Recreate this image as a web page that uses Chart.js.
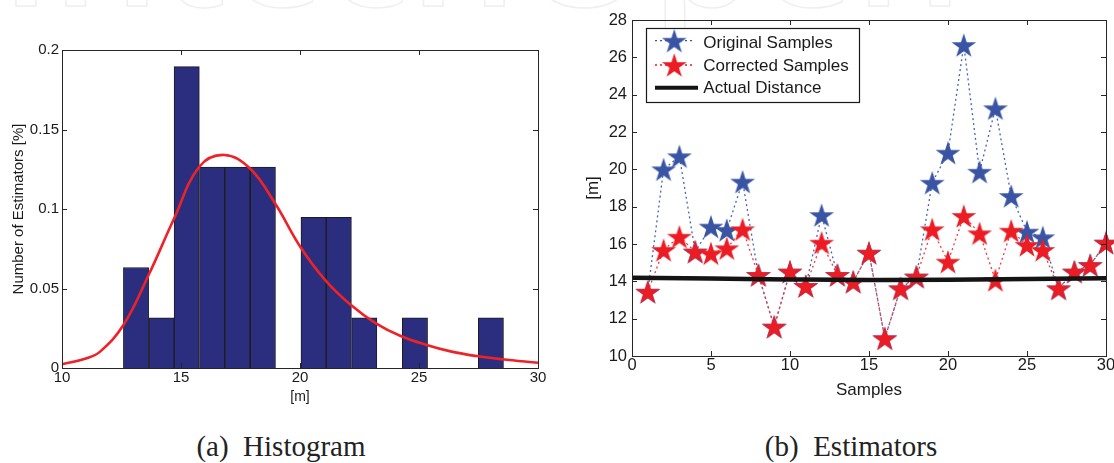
<!DOCTYPE html>
<html>
<head>
<meta charset="utf-8">
<script src="https://cdn.jsdelivr.net/npm/chart.js@4.4.0/dist/chart.umd.min.js"></script>
<style>
html, body { margin: 0; padding: 0; background: #fff; }
body { width: 1114px; height: 463px; position: relative; overflow: hidden; font-family: "Liberation Sans", Arial, sans-serif; }
#wm { position: absolute; left: 0; top: -145px; font: 600 170px/170px "Open Sans", sans-serif; color: transparent; -webkit-text-stroke: 1.5px #efefef; white-space: nowrap; }
#histBox { position: absolute; left: 0; top: 0; width: 560px; height: 410px; }
#estBox { position: absolute; left: 560px; top: 0; width: 554px; height: 410px; }
.cap { position: absolute; top: 432px; font: 29px/29px "Liberation Serif", serif; white-space: pre; color: #222; transform: translateX(-50%); }
</style>
</head>
<body>
<div id="wm">IntechOpen</div>
<div id="histBox"><canvas id="hist" width="560" height="410"></canvas></div>
<div id="estBox"><canvas id="est" width="554" height="410"></canvas></div>
<div class="cap" style="left:281px">(a)  Histogram</div>
<div class="cap" style="left:851px">(b)  Estimators</div>
<script>
// ---------------- data: (a) histogram ----------------
const binCenters = [13.11, 14.18, 15.24, 16.31, 17.37, 18.44, 19.50, 20.57, 21.63, 22.70, 23.76, 24.83, 25.89, 26.96, 28.02];
const binHeights = [0.0632, 0.0316, 0.1895, 0.1263, 0.1263, 0.1263, 0, 0.0947, 0.0947, 0.0316, 0, 0.0316, 0, 0, 0.0316];
const fitX = [10, 11.04, 11.6, 12.58, 13.64, 14.71, 15.77, 16.81, 17.89, 18.95, 20.01, 21.06, 22.14, 23.19, 24.23, 25.32, 26.37, 27.42, 28.49, 30];
const fitY = [0.0023, 0.0061, 0.0103, 0.027, 0.0585, 0.094, 0.1266, 0.134, 0.1256, 0.1036, 0.0763, 0.0553, 0.0396, 0.0281, 0.0201, 0.0145, 0.0103, 0.0075, 0.0055, 0.0033];
const histXTicks = [10, 15, 20, 25, 30];
const histYTicks = [0, 0.05, 0.1, 0.15, 0.2];
const histYLabels = ['0', '0.05', '0.1', '0.15', '0.2'];

// ---------------- data: (b) estimators ----------------
const samples = [1, 2, 3, 4, 5, 6, 7, 8, 9, 10, 11, 12, 13, 14, 15, 16, 17, 18, 19, 20, 21, 22, 23, 24, 25, 26, 27, 28, 29, 30];
const original = [13.44, 20.0, 20.7, 15.59, 16.93, 16.75, 19.34, 14.34, 11.57, 14.52, 13.75, 17.55, 14.34, 13.98, 15.53, 10.95, 13.62, 14.25, 19.28, 20.89, 26.66, 19.87, 23.27, 18.57, 16.66, 16.36, 13.62, 14.52, 14.87, 16.07];
const corrected = [13.44, 15.68, 16.39, 15.59, 15.5, 15.77, 16.79, 14.34, 11.57, 14.52, 13.75, 16.07, 14.34, 13.98, 15.53, 10.95, 13.62, 14.25, 16.79, 15.05, 17.5, 16.57, 14.07, 16.71, 15.95, 15.68, 13.62, 14.52, 14.87, 16.07];
const actualX = [0, 5, 10, 15, 20, 25, 30];
const actualY = [14.19, 14.15, 14.1, 14.07, 14.08, 14.12, 14.16];
const estXTicks = [0, 5, 10, 15, 20, 25, 30];
const estYTicks = [10, 12, 14, 16, 18, 20, 22, 24, 26, 28];
const legendLabels = ['Original Samples', 'Corrected Samples', 'Actual Distance'];

const BLUE = '#3a54a4';
const RED = '#ec1c24';
const FONT = '"Liberation Sans", Arial, sans-serif';

// filled 5-point star used as the marker
function makeStar(fill) {
    const c = document.createElement('canvas');
    c.width = 28; c.height = 28;
    const g = c.getContext('2d');
    const R = 13, r = R * 0.382, cx = 14, cy = 15.2;
    g.beginPath();
    for (let i = 0; i < 10; i++) {
        const rad = i % 2 ? r : R;
        const a = -Math.PI / 2 + i * Math.PI / 5;
        g.lineTo(cx + rad * Math.cos(a), cy + rad * Math.sin(a));
    }
    g.closePath();
    g.fillStyle = fill;
    g.fill();
    return c;
}
const blueStar = makeStar(BLUE);
const redStar = makeStar(RED);

// matlab-like box with inward ticks on all four sides
const boxTicks = {
    id: 'boxTicks',
    afterDraw(chart) {
        const { ctx, chartArea: a, scales } = chart;
        const tl = 5;
        ctx.save();
        ctx.strokeStyle = '#262626';
        ctx.lineWidth = 1;
        ctx.beginPath();
        for (const t of scales.x.ticks) {
            const px = Math.round(scales.x.getPixelForValue(t.value)) + 0.5;
            ctx.moveTo(px, a.bottom); ctx.lineTo(px, a.bottom - tl);
            ctx.moveTo(px, a.top); ctx.lineTo(px, a.top + tl);
        }
        for (const t of scales.y.ticks) {
            const py = Math.round(scales.y.getPixelForValue(t.value)) + 0.5;
            ctx.moveTo(a.left, py); ctx.lineTo(a.left + tl, py);
            ctx.moveTo(a.right, py); ctx.lineTo(a.right - tl, py);
        }
        ctx.stroke();
        ctx.strokeRect(Math.round(a.left) + 0.5, Math.round(a.top) + 0.5, Math.round(a.right - a.left), Math.round(a.bottom - a.top));
        ctx.restore();
    }
};

function fixedTicks(list) {
    return s => { s.ticks = list.map(v => ({ value: v })); };
}

// ---------------- (a) histogram ----------------
new Chart(document.getElementById('hist'), {
    type: 'bar',
    data: {
        datasets: [
            {
                type: 'line',
                data: fitX.map((x, i) => ({ x, y: fitY[i] })),
                borderColor: '#ee2227',
                borderWidth: 2.6,
                pointRadius: 0,
                tension: 0.4,
                order: 0
            },
            {
                data: binCenters.map((x, i) => ({ x, y: binHeights[i] })),
                backgroundColor: '#2b2e7e',
                borderColor: '#1c1c1c',
                borderWidth: 1,
                barPercentage: 1,
                categoryPercentage: 1,
                order: 1
            }
        ]
    },
    options: {
        responsive: false,
        animation: false,
        events: [],
        layout: { padding: { left: 0, top: 50, right: 22, bottom: 0 } },
        plugins: { legend: { display: false }, tooltip: { enabled: false } },
        scales: {
            x: {
                type: 'linear', min: 10, max: 30, offset: false,
                afterBuildTicks: fixedTicks(histXTicks),
                afterFit(s) { s.height = 42; s.paddingLeft = 0; s.paddingRight = 0; },
                grid: { display: false, drawTicks: false },
                border: { display: false },
                ticks: { padding: 1, color: '#1a1a1a', font: { family: FONT, size: 15 }, maxRotation: 0, autoSkip: false },
                title: { display: true, text: '[m]', color: '#1a1a1a', font: { family: FONT, size: 14 }, padding: { top: 0, bottom: 4.6 } }
            },
            y: {
                min: 0, max: 0.2,
                afterBuildTicks: fixedTicks(histYTicks),
                afterFit(s) { s.width = 62; s.paddingTop = 0; s.paddingBottom = 0; },
                grid: { display: false, drawTicks: false },
                border: { display: false },
                ticks: { padding: 3, color: '#1a1a1a', font: { family: FONT, size: 15 }, callback: (v, i) => histYLabels[i] },
                title: { display: true, text: 'Number of Estimators [%]', color: '#1a1a1a', font: { family: FONT, size: 15 }, padding: { top: 10, bottom: 0 } }
            }
        }
    },
    plugins: [boxTicks]
});

// ---------------- (b) estimators ----------------
const legendBox = {
    id: 'legendBox',
    afterDraw(chart) {
        const ctx = chart.ctx;
        ctx.save();
        ctx.fillStyle = '#fff';
        ctx.fillRect(86.5, 28.5, 213, 74);
        ctx.strokeStyle = '#1a1a1a';
        ctx.lineWidth = 1.2;
        ctx.strokeRect(86.5, 28.5, 213, 74);
        const rows = [
            { y: 40.7, star: blueStar, col: BLUE },
            { y: 65, star: redStar, col: RED }
        ];
        for (const r of rows) {
            ctx.setLineDash([2, 3]);
            ctx.lineWidth = 1.3;
            ctx.strokeStyle = r.col;
            ctx.beginPath(); ctx.moveTo(95, r.y); ctx.lineTo(135, r.y); ctx.stroke();
            ctx.setLineDash([]);
            ctx.drawImage(r.star, 114.3 - 14, r.y - 14);
        }
        ctx.lineWidth = 4;
        ctx.strokeStyle = '#141414';
        ctx.beginPath(); ctx.moveTo(95, 87.7); ctx.lineTo(138, 87.7); ctx.stroke();
        ctx.fillStyle = '#1a1a1a';
        ctx.font = '17px ' + FONT;
        ctx.textBaseline = 'middle';
        ctx.fillText(legendLabels[0], 143.3, 43.3);
        ctx.fillText(legendLabels[1], 143.3, 66.7);
        ctx.fillText(legendLabels[2], 143.3, 88.3);
        ctx.restore();
    }
};

new Chart(document.getElementById('est'), {
    type: 'line',
    data: {
        datasets: [
            {
                label: legendLabels[0],
                data: samples.map((x, i) => ({ x, y: original[i] })),
                borderColor: '#4864b4',
                borderWidth: 1.3,
                borderDash: [2, 3],
                pointStyle: blueStar,
                clip: false,
                order: 3
            },
            {
                label: legendLabels[1],
                data: samples.map((x, i) => ({ x, y: corrected[i] })),
                borderColor: '#ef3a40',
                borderWidth: 1.3,
                borderDash: [2, 3],
                pointStyle: redStar,
                clip: false,
                order: 2
            },
            {
                label: legendLabels[2],
                data: actualX.map((x, i) => ({ x, y: actualY[i] })),
                borderColor: '#141414',
                borderWidth: 4.5,
                pointRadius: 0,
                cubicInterpolationMode: 'monotone',
                order: 1
            }
        ]
    },
    options: {
        responsive: false,
        animation: false,
        events: [],
        layout: { padding: { left: 0, top: 20, right: 8, bottom: 0 } },
        plugins: { legend: { display: false }, tooltip: { enabled: false } },
        scales: {
            x: {
                type: 'linear', min: 0, max: 30,
                afterBuildTicks: fixedTicks(estXTicks),
                afterFit(s) { s.height = 54; s.paddingLeft = 0; s.paddingRight = 0; },
                grid: { display: false, drawTicks: false },
                border: { display: false },
                ticks: { padding: 0, color: '#1a1a1a', font: { family: FONT, size: 16.5 }, maxRotation: 0, autoSkip: false },
                title: { display: true, text: 'Samples', color: '#1a1a1a', font: { family: FONT, size: 17 }, padding: { top: 0, bottom: 9.8 } }
            },
            y: {
                min: 10, max: 28,
                afterBuildTicks: fixedTicks(estYTicks),
                afterFit(s) { s.width = 72; s.paddingTop = 0; s.paddingBottom = 0; },
                grid: { display: false, drawTicks: false },
                border: { display: false },
                ticks: { padding: 5, color: '#1a1a1a', font: { family: FONT, size: 16.5 } },
                title: { display: true, text: '[m]', color: '#1a1a1a', font: { family: FONT, size: 17 }, padding: { top: 22.8, bottom: 0 } }
            }
        }
    },
    plugins: [boxTicks, legendBox]
});
</script>
</body>
</html>
